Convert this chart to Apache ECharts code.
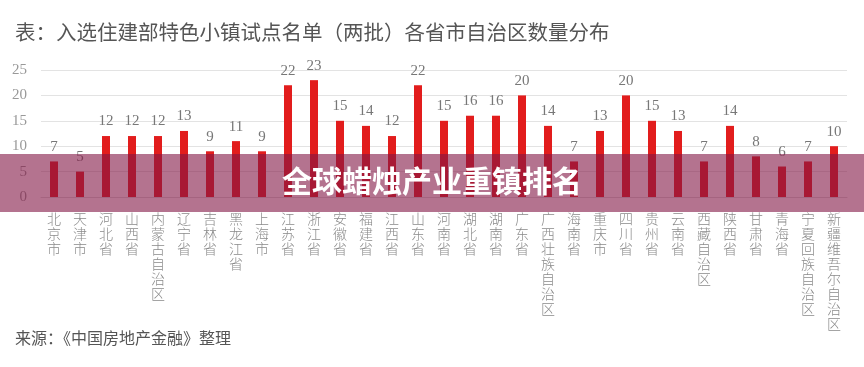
<!DOCTYPE html>
<html><head><meta charset="utf-8">
<script src="https://cdn.jsdelivr.net/npm/echarts@6/dist/echarts.min.js"></script>
<style>html,body{margin:0;padding:0;background:#fff}#c{width:864px;height:367px}</style>
</head><body><div id="c"></div>
<script>
const categories = ['北京市','天津市','河北省','山西省','内蒙古自治区','辽宁省','吉林省','黑龙江省','上海市','江苏省','浙江省','安徽省','福建省','江西省','山东省','河南省','湖北省','湖南省','广东省','广西壮族自治区','海南省','重庆市','四川省','贵州省','云南省','西藏自治区','陕西省','甘肃省','青海省','宁夏回族自治区','新疆维吾尔自治区'];
const counts = [7,5,12,12,12,13,9,11,9,22,23,15,14,12,22,15,16,16,20,14,7,13,20,15,13,7,14,8,6,7,10];
const yTicks = [0,5,10,15,20,25];
const titleText = '表：入选住建部特色小镇试点名单（两批）各省市自治区数量分布';
const sourceText = '来源：《中国房地产金融》整理';
const bannerText = '全球蜡烛产业重镇排名';

const chart = echarts.init(document.getElementById('c'), null, {renderer:'canvas'});
chart.setOption({
  animation:false,
  title:{text:titleText,left:10,top:17,textStyle:{fontFamily:'Noto Sans CJK SC',fontSize:20.5,fontWeight:'normal',color:'#555'}},
  grid:{left:41,right:17,top:70,height:127,containLabel:false},
  xAxis:{type:'category',data:categories,
    axisLine:{show:true,lineStyle:{color:'#d9d9d9'}},axisTick:{show:false},
    axisLabel:{interval:0,margin:14,color:'#8a8a8a',fontFamily:'Noto Sans CJK SC',fontSize:14,lineHeight:15,fontWeight:300,verticalAlign:'top',
      formatter:v=>v.split('').join('\n')}},
  yAxis:{type:'value',min:yTicks[0],max:yTicks[yTicks.length-1],interval:5,
    axisLine:{show:false},axisTick:{show:false},
    splitLine:{lineStyle:{color:'#e3e3e3'}},
    axisLabel:{margin:14,color:'#999',fontFamily:'Liberation Serif',fontSize:15}},
  series:[{type:'bar',data:counts,barWidth:8,itemStyle:{color:'#e21d1d'},
    label:{show:true,position:'top',distance:7,color:'#777',fontFamily:'Liberation Serif',fontSize:15}}],
  graphic:[
    {type:'rect',left:0,top:154,z:100,shape:{width:864,height:58},style:{fill:'rgba(130,22,68,0.6)'}},
    {type:'text',left:'center',top:166,z:101,style:{text:bannerText,fill:'#fff',font:'bold 30px "Noto Sans CJK SC"'}},
    {type:'text',left:15,top:330,z:10,style:{text:sourceText,fill:'#555',font:'16px "Noto Sans CJK SC"'}}
  ]
});
</script></body></html>
